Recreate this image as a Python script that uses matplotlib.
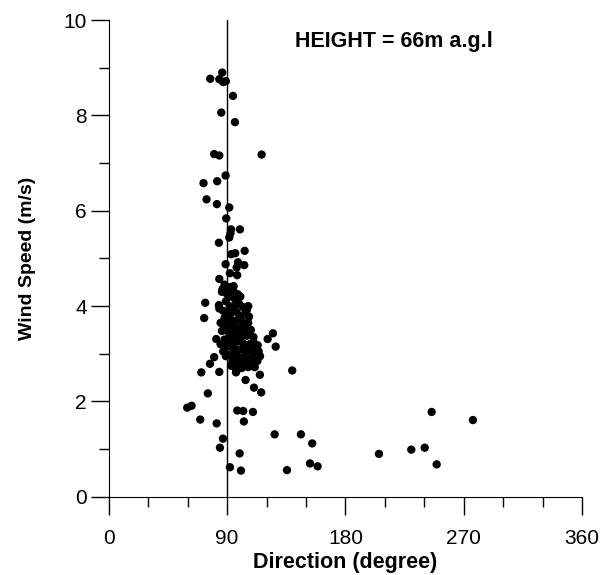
import numpy as np
import matplotlib.pyplot as plt
from matplotlib.ticker import MultipleLocator

plt.rcParams['font.family'] = ['Liberation Sans', 'DejaVu Sans']

# wind direction (degree) and wind speed (m/s)
direction = [77.1, 86.2, 84.0, 87.0, 89.0, 94.4, 85.5, 95.9, 80.1, 84.0, 116.2,
             88.8, 72.0, 82.4, 74.3, 82.2, 91.6, 89.3, 92.9, 99.7, 91.6, 92.5,
             83.7, 103.3, 93.1, 96.1, 88.8, 98.2, 103.0, 97.2, 92.1, 97.6, 84.0,
             94.9, 86.5, 73.3, 83.7, 72.5, 106.6, 124.8, 120.8, 126.9, 81.7,
             113.2, 80.1, 76.9, 70.3, 84.0, 96.7, 104.0, 114.9, 139.5, 110.4,
             115.9, 75.3, 59.6, 62.9, 97.7, 102.2, 109.6, 69.5, 82.0, 102.7,
             86.8, 126.1, 146.1, 154.7, 84.5, 99.5, 153.0, 158.8, 92.1, 100.5,
             135.5, 205.5, 230.1, 240.3, 245.6, 249.4, 277.0,
             86, 90, 93, 96, 89, 99, 92, 95, 102, 87, 91, 97, 100, 104, 88, 93,
             96, 101, 106, 90, 94, 98, 103, 108, 86, 91, 95, 100, 105, 110, 88,
             93, 97, 102, 107, 90, 95, 99, 104, 109, 92, 97, 101, 106, 111, 94,
             99, 103, 108, 113, 96, 101, 105, 100, 92, 98, 87, 112, 85, 106,
             84, 88, 92, 95, 98, 89, 94, 99, 103, 107, 110, 114, 96, 100, 104,
             108, 88, 85, 89, 93, 97, 102, 106, 111, 115, 101, 97, 91, 94, 105]
speed = [8.77, 8.90, 8.76, 8.70, 8.72, 8.41, 8.06, 7.86, 7.19, 7.16, 7.18,
         6.74, 6.58, 6.62, 6.24, 6.14, 6.07, 5.84, 5.61, 5.61, 5.44, 5.53,
         5.33, 5.16, 5.09, 5.11, 4.88, 4.92, 4.86, 4.81, 4.69, 4.65, 4.57,
         4.42, 4.36, 4.07, 4.02, 3.75, 3.78, 3.43, 3.31, 3.15, 3.31,
         3.18, 2.93, 2.79, 2.61, 2.62, 2.61, 2.45, 2.56, 2.65, 2.29,
         2.19, 2.17, 1.87, 1.91, 1.81, 1.80, 1.78, 1.62, 1.54, 1.58,
         1.22, 1.31, 1.31, 1.12, 1.03, 0.91, 0.70, 0.64, 0.62, 0.55,
         0.56, 0.90, 0.99, 1.03, 1.78, 0.68, 1.61,
         4.30, 4.25, 4.20, 4.15, 4.10, 4.05, 4.00, 3.95, 3.98, 3.90, 3.85,
         3.88, 3.80, 3.85, 3.75, 3.72, 3.68, 3.70, 3.65, 3.60, 3.58, 3.55,
         3.52, 3.50, 3.48, 3.45, 3.42, 3.40, 3.38, 3.35, 3.30, 3.28, 3.25,
         3.22, 3.20, 3.15, 3.10, 3.08, 3.05, 3.02, 2.98, 2.95, 2.92, 2.90,
         2.95, 2.85, 2.80, 2.78, 2.82, 2.85, 2.72, 2.70, 3.60, 4.20, 3.50,
         3.35, 3.05, 3.10, 3.65, 4.00,
         3.95, 4.45, 4.40, 4.30, 4.25, 3.80, 3.88, 3.75, 3.62, 3.45, 3.25,
         3.05, 3.48, 3.30, 3.15, 3.10, 3.55, 3.20, 2.95, 2.75, 2.65, 2.85,
         2.72, 2.72, 2.95, 3.55, 4.08, 3.30, 3.18, 3.92]

fig = plt.figure(figsize=(6.05, 5.75), dpi=100)
ax = fig.add_axes([0.180, 0.136, 0.782, 0.829])

ax.scatter(direction, speed, s=36, c='black', edgecolors='none', zorder=3)
ax.axvline(90, color='black', lw=1.0, zorder=2)

ax.set_xlim(0, 360)
ax.set_ylim(0, 10)
ax.xaxis.set_major_locator(MultipleLocator(90))
ax.xaxis.set_minor_locator(MultipleLocator(30))
ax.yaxis.set_major_locator(MultipleLocator(2))
ax.yaxis.set_minor_locator(MultipleLocator(1))
ax.tick_params(which='major', direction='out', length=13, width=1, labelsize=15)
ax.tick_params(axis='x', which='major', pad=10)
ax.tick_params(axis='y', which='major', pad=3)
ax.tick_params(which='minor', direction='out', length=7, width=1)

ax.spines['top'].set_visible(False)
ax.spines['right'].set_visible(False)

ax.set_xlabel('Direction (degree)', fontsize=15.5, fontweight='bold', labelpad=3)
ax.set_ylabel('Wind Speed (m/s)', fontsize=14, fontweight='bold', labelpad=20)

ax.text(141.5, 9.43, 'HEIGHT = 66m a.g.l', fontsize=15.5, fontweight='bold',
        ha='left', va='baseline')

fig.savefig('out.png', dpi=100)
